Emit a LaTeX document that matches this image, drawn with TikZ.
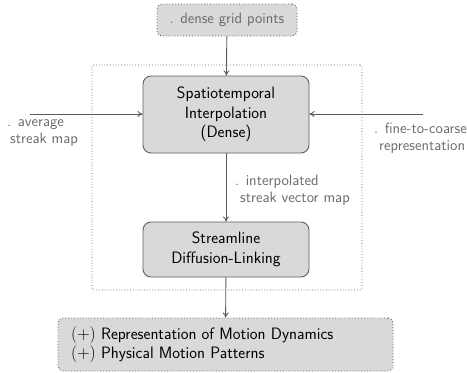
\documentclass[tikz,border=0pt]{standalone}
\usetikzlibrary{arrows.meta}
\renewcommand{\familydefault}{\sfdefault}
\definecolor{boxfill}{RGB}{217,217,217}
\definecolor{boxline}{RGB}{95,95,95}
\definecolor{arrowc}{RGB}{90,90,90}
\definecolor{labelc}{RGB}{105,105,105}
\tikzset{
  procbox/.style={draw=boxline, fill=boxfill, line width=0.9pt, rounded corners=8pt,
    minimum width=166pt, align=center, font=\fontsize{16.5}{19.5}\selectfont, inner sep=0pt},
  dotbox/.style={draw=boxline, fill=boxfill, dotted, line width=0.9pt, rounded corners=5pt, inner sep=0pt},
  flow/.style={draw=arrowc, line width=0.9pt, -{To[length=5pt,width=6pt]}},
  lbl/.style={text=labelc, font=\fontsize{15}{17}\selectfont, align=left, inner sep=0pt},
}
\begin{document}
\begin{tikzpicture}[x=1pt,y=-1pt]
\useasboundingbox (0,0) rectangle (467,373);
% frame
\node[draw=boxline, dotted, line width=0.8pt, rounded corners=2pt, minimum width=270pt, minimum height=225pt, inner sep=0pt] (frame) at (227,177.5) {};
% nodes
\node[dotbox, minimum width=140pt, minimum height=32pt, text=labelc, font=\fontsize{15}{17}\selectfont] (grid) at (227,20) {. dense grid points};
\node[procbox, minimum height=77pt] (interp) at (226,114.5) {Spatiotemporal\\Interpolation\\(Dense)};
\node[procbox, minimum height=55pt] (sdl) at (226,249.5) {Streamline\\Diffusion-Linking};
\node[dotbox, minimum width=335pt, minimum height=53pt] (out) at (225.5,344.5) {};
\node[anchor=west, align=left, inner sep=0pt, font=\fontsize{16.5}{19.5}\selectfont] (outtext) at (71,344.5) {$(+)$ Representation of Motion Dynamics\\$(+)$ Physical Motion Patterns};
% side inputs
\coordinate (lin) at (30,114);
\coordinate (rin) at (423,114);
\draw[flow] (lin) -- (interp.west |- lin);
\draw[flow] (rin) -- (interp.east |- rin);
\node[lbl, anchor=base west] (llbl) at (7,143.5) {. average\\\hspace*{3pt}streak map};
\node[lbl, anchor=base west] (rlbl) at (374,150) {. fine-to-coarse\\\hspace*{5pt}representation};
% vertical flow
\draw[flow] (grid) -- (interp);
\draw[flow] (interp) -- (sdl);
\node[lbl, anchor=base west] (mlbl) at (235,202) {. interpolated\\\hspace*{5pt}streak vector map};
\draw[flow] (sdl) -- (out);
\end{tikzpicture}
\end{document}
